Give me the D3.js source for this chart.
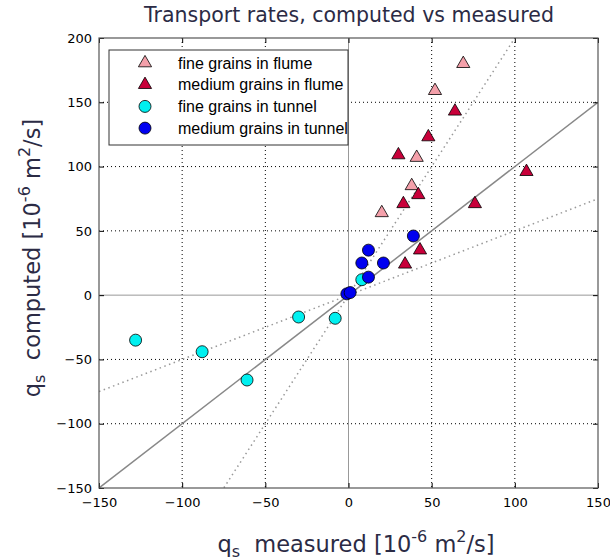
<!DOCTYPE html>
<html>
<head>
<meta charset="utf-8">
<script src="https://cdn.jsdelivr.net/npm/d3@7"></script>
<style>
  body { margin: 0; background: #fff; }
  text { font-family: "DejaVu Sans", sans-serif; }
</style>
</head>
<body>
<div id="chart"></div>
<script>
// measured vs computed transport rates [1e-6 m2/s]
const fineFlume = [[69, 180], [52, 159], [41, 107], [38, 85], [20, 64]];
const mediumFlume = [[64, 143], [48, 123], [30, 109], [107, 96], [42, 78], [33, 71], [76, 71], [43, 35], [34, 24]];
const fineTunnel = [[-128, -35], [-88, -44], [-61, -66], [-30, -17], [-8, -18], [8, 12]];
const mediumTunnel = [[39, 46], [12, 35], [8, 25], [21, 25], [12, 14], [-1, 1], [1, 2]];
const xTicks = [-150, -100, -50, 0, 50, 100, 150];
const yTicks = [-150, -100, -50, 0, 50, 100, 150, 200];
const refSlopes = [0.5, 2];

const width = 610, height = 560;
const pLeft = 99, pRight = 598, pTop = 38, pBottom = 488;
const ink = "#2b2b45";

const svg = d3.select("#chart").append("svg")
    .attr("width", width)
    .attr("height", height);

const x = d3.scaleLinear().domain([-150, 150]).range([pLeft, pRight]);
const y = d3.scaleLinear().domain([-150, 200]).range([pBottom, pTop]);

svg.append("text")
    .attr("x", 349)
    .attr("y", 22)
    .attr("text-anchor", "middle")
    .style("font-size", "20.5px")
    .style("fill", ink)
    .text("Transport rates, computed vs measured");

// dotted grid
const grid = svg.append("g");
grid.selectAll(".gx").data(xTicks.filter(d => d !== 0 && Math.abs(d) !== 150)).enter()
  .append("line")
    .attr("x1", d => x(d)).attr("x2", d => x(d))
    .attr("y1", pTop).attr("y2", pBottom)
    .attr("stroke", "#000").attr("stroke-width", 1).attr("stroke-dasharray", "1,3");
grid.selectAll(".gy").data(yTicks.filter(d => d !== 0 && d !== -150 && d !== 200)).enter()
  .append("line")
    .attr("x1", pLeft).attr("x2", pRight)
    .attr("y1", d => y(d)).attr("y2", d => y(d))
    .attr("stroke", "#000").attr("stroke-width", 1).attr("stroke-dasharray", "1,3");

// zero lines
svg.append("line")
    .attr("x1", x(0)).attr("x2", x(0)).attr("y1", pTop).attr("y2", pBottom)
    .attr("stroke", "#999");
svg.append("line")
    .attr("x1", pLeft).attr("x2", pRight).attr("y1", y(0)).attr("y2", y(0))
    .attr("stroke", "#999");

svg.append("clipPath").attr("id", "clip")
  .append("rect").attr("x", pLeft).attr("y", pTop)
    .attr("width", pRight - pLeft).attr("height", pBottom - pTop);

const lines = svg.append("g").attr("clip-path", "url(#clip)");
// 1:1 line
lines.append("line")
    .attr("x1", x(-150)).attr("y1", y(-150))
    .attr("x2", x(150)).attr("y2", y(150))
    .attr("stroke", "#888").attr("stroke-width", 1.5);
// factor 2 lines
refSlopes.forEach(s => {
  lines.append("line")
      .attr("x1", x(-150)).attr("y1", y(-150 * s))
      .attr("x2", x(150)).attr("y2", y(150 * s))
      .attr("stroke", "#999").attr("stroke-width", 1.5).attr("stroke-dasharray", "1.5,3.5");
});

// axes
svg.append("g")
    .attr("transform", `translate(0,${pBottom})`)
    .call(d3.axisBottom(x).tickValues(xTicks).tickSizeInner(-5).tickSizeOuter(0).tickPadding(10))
    .call(g => g.select(".domain").remove())
    .call(g => g.selectAll("text").style("font-size", "13px").style("font-family", "DejaVu Sans").attr("fill", "#000"));
svg.append("g")
    .attr("transform", `translate(${pLeft},0)`)
    .call(d3.axisLeft(y).tickValues(yTicks).tickSizeInner(-5).tickSizeOuter(0).tickPadding(7))
    .call(g => g.select(".domain").remove())
    .call(g => g.selectAll("text").style("font-size", "13px").style("font-family", "DejaVu Sans").attr("fill", "#000"));
svg.append("g")
    .attr("transform", `translate(0,${pTop})`)
    .call(d3.axisTop(x).tickValues(xTicks).tickSizeInner(-5).tickSizeOuter(0).tickFormat(""))
    .call(g => g.select(".domain").remove());
svg.append("g")
    .attr("transform", `translate(${pRight},0)`)
    .call(d3.axisRight(y).tickValues(yTicks).tickSizeInner(-5).tickSizeOuter(0).tickFormat(""))
    .call(g => g.select(".domain").remove());

svg.append("rect")
    .attr("x", pLeft).attr("y", pTop)
    .attr("width", pRight - pLeft).attr("height", pBottom - pTop)
    .attr("fill", "none").attr("stroke", "#555").attr("stroke-width", 1.2);

// markers
const tri = d3.symbol().type(d3.symbolTriangle).size(75);
const pts = svg.append("g");
function triangles(data, color) {
  pts.selectAll(null).data(data).enter().append("path")
      .attr("d", tri)
      .attr("transform", d => `translate(${x(d[0])},${y(d[1])})`)
      .attr("fill", color).attr("stroke", "#000").attr("stroke-width", 0.8);
}
function circles(data, color) {
  pts.selectAll(null).data(data).enter().append("circle")
      .attr("cx", d => x(d[0])).attr("cy", d => y(d[1])).attr("r", 6)
      .attr("fill", color).attr("stroke", "#000").attr("stroke-width", 0.8);
}
triangles(fineFlume, "#f4a0aa");
triangles(mediumFlume, "#c8003a");
circles(fineTunnel, "#00f0f0");
circles(mediumTunnel, "#0000f0");

// legend
const legendItems = [
  {label: "fine grains in flume", shape: "tri", color: "#f4a0aa"},
  {label: "medium grains in flume", shape: "tri", color: "#c8003a"},
  {label: "fine grains in tunnel", shape: "circ", color: "#00f0f0"},
  {label: "medium grains in tunnel", shape: "circ", color: "#0000f0"}
];
const lg = svg.append("g");
lg.append("rect")
    .attr("x", 109).attr("y", 50).attr("width", 239).attr("height", 95)
    .attr("fill", "#fff").attr("stroke", "#333").attr("stroke-width", 1);
legendItems.forEach((it, i) => {
  const cy = 63 + i * 21.7;
  if (it.shape === "tri") {
    lg.append("path").attr("d", tri)
        .attr("transform", `translate(145,${cy})`)
        .attr("fill", it.color).attr("stroke", "#000").attr("stroke-width", 0.8);
  } else {
    lg.append("circle").attr("cx", 145).attr("cy", cy).attr("r", 6)
        .attr("fill", it.color).attr("stroke", "#000").attr("stroke-width", 0.8);
  }
  lg.append("text").attr("x", 178).attr("y", cy + 5.5)
      .style("font-size", "16px").style("font-family", "Liberation Sans").attr("fill", "#000")
      .text(it.label);
});

// axis labels
function unitLabel(sel, word) {
  sel.attr("xml:space", "preserve");
  sel.append("tspan").text("q");
  sel.append("tspan").attr("dy", 5).style("font-size", "16px").text("s");
  sel.append("tspan").attr("dy", -5).text("  " + word + " [10");
  sel.append("tspan").attr("dy", -10).style("font-size", "16px").text("-6");
  sel.append("tspan").attr("dy", 10).text(" m");
  sel.append("tspan").attr("dy", -10).style("font-size", "16px").text("2");
  sel.append("tspan").attr("dy", 10).text("/s]");
}
const xl = svg.append("text")
    .attr("x", 356)
    .attr("y", 552)
    .attr("text-anchor", "middle")
    .style("font-size", "22.5px")
    .style("fill", ink);
unitLabel(xl, "measured");

const yl = svg.append("text")
    .attr("transform", `translate(40,258) rotate(-90)`)
    .attr("text-anchor", "middle")
    .style("font-size", "22.5px")
    .style("fill", ink);
unitLabel(yl, "computed");
</script>
</body>
</html>
